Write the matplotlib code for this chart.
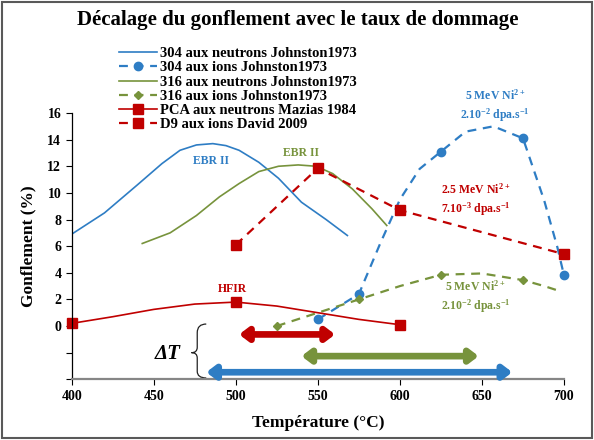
import matplotlib.pyplot as plt
from matplotlib.path import Path
from matplotlib.patches import PathPatch, Rectangle

# couleurs type Excel
BLEU = '#2E7DC4'
VERT = '#77933C'
ROUGE = '#C00000'

# 304 aux neutrons (courbe lissée)
t_304n = [400, 420, 440, 455, 466, 476, 486, 494, 502, 514, 526, 540, 555, 568]
g_304n = [6.9, 8.5, 10.6, 12.2, 13.2, 13.6, 13.7, 13.55, 13.2, 12.3, 11.1, 9.3, 8.0, 6.8]

# 304 aux ions
t_304i = [550, 575, 588, 600, 612, 625, 640, 657, 675, 688, 696, 700]
g_304i = [0.5, 2.4, 6.2, 9.5, 11.8, 13.1, 14.6, 15.0, 14.1, 9.4, 5.9, 3.8]
mk_304i = [0, 1, 5, 8, 11]

# 316 aux neutrons
t_316n = [443, 460, 476, 490, 502, 514, 526, 538, 549, 559, 571, 583, 592]
g_316n = [6.2, 7.0, 8.3, 9.7, 10.7, 11.6, 12.0, 12.1, 12.0, 11.45, 10.3, 8.8, 7.55]

# 316 aux ions
t_316i = [525, 550, 575, 600, 625, 650, 675, 688, 698]
g_316i = [0.0, 1.0, 2.0, 3.0, 3.85, 3.95, 3.45, 3.0, 2.6]
mk_316i = [0, 2, 4, 6]

# PCA aux neutrons
t_pca = [400, 425, 450, 475, 500, 525, 550, 575, 600]
g_pca = [0.2, 0.7, 1.25, 1.65, 1.8, 1.5, 1.0, 0.5, 0.1]
mk_pca = [0, 4, 8]

# D9 aux ions
t_d9 = [500, 550, 600, 700]
g_d9 = [6.1, 11.85, 8.7, 5.4]

# intervalles de température (flèches Delta T)
dt_debut = [502, 540, 482]
dt_fin = [560.5, 648, 668.5]
dt_y = [-0.63, -2.26, -3.47]
dt_couleurs = [ROUGE, VERT, BLEU]

plt.rcParams['font.family'] = 'Liberation Serif'
plt.rcParams['font.weight'] = 'bold'
plt.rcParams['axes.labelweight'] = 'bold'
plt.rcParams['mathtext.default'] = 'regular'

fig = plt.figure(figsize=(5.94, 4.4), dpi=100)
ax = fig.add_axes([71.7 / 594, 1 - 379.3 / 440, (564 - 71.7) / 594, (379.3 - 113) / 440])

tirets = (0, (4, 3))
ax.plot(t_304n, g_304n, color=BLEU, lw=1.2, label='304 aux neutrons Johnston1973')
ax.plot(t_304i, g_304i, color=BLEU, lw=1.6, ls=tirets, marker='o', ms=6,
        markevery=mk_304i, label='304 aux ions Johnston1973', clip_on=False)
ax.plot(t_316n, g_316n, color=VERT, lw=1.2, label='316 aux neutrons Johnston1973')
ax.plot(t_316i, g_316i, color=VERT, lw=1.6, ls=tirets, marker='D', ms=4,
        markevery=mk_316i, label='316 aux ions Johnston1973')
ax.plot(t_pca, g_pca, color=ROUGE, lw=1.2, marker='s', ms=7,
        markevery=mk_pca, label='PCA aux neutrons Mazias 1984', clip_on=False)
ax.plot(t_d9, g_d9, color=ROUGE, lw=1.6, ls=tirets, marker='s', ms=7,
        label='D9 aux ions David 2009', clip_on=False)

# flèches
for x0, x1, y, c in zip(dt_debut, dt_fin, dt_y, dt_couleurs):
    ax.annotate('', xy=(x1, y), xytext=(x0, y),
                arrowprops=dict(arrowstyle='<|-|>,head_length=0.5,head_width=0.38',
                                color=c, lw=4.8, shrinkA=0, shrinkB=0))

# accolade
verts = [(482, 0.15), (476.5, 0.15), (476.5, -0.5), (476.5, -1.6),
         (476.5, -2.0), (473, -2.0), (476.5, -2.0), (476.5, -2.4),
         (476.5, -3.4), (476.5, -3.9), (482, -3.9)]
codes = [Path.MOVETO, Path.CURVE3, Path.CURVE3, Path.LINETO,
         Path.CURVE3, Path.CURVE3, Path.CURVE3, Path.CURVE3,
         Path.LINETO, Path.CURVE3, Path.CURVE3]
ax.add_patch(PathPatch(Path(verts, codes), fill=False, lw=0.9, color='#222222'))
ax.text(458.5, -2.1, 'ΔT', fontsize=15, style='italic', ha='center', va='center')

# annotations
ax.text(485, 12.4, 'EBR II', color=BLEU, fontsize=8.5, ha='center', va='center')
ax.text(539.6, 13.0, 'EBR II', color=VERT, fontsize=8.5, ha='center', va='center')
ax.text(498, 2.77, 'HFIR', color=ROUGE, fontsize=8.5, ha='center', va='center')
ax.text(658, 16.5, '5 MeV Ni$^{2+}$\n2.10$^{-2}$ dpa.s$^{-1}$', color=BLEU, fontsize=8.5,
        ha='center', va='center', linespacing=1.3)
ax.text(646, 9.45, '2.5 MeV Ni$^{2+}$\n7.10$^{-3}$ dpa.s$^{-1}$', color=ROUGE, fontsize=8.5,
        ha='center', va='center', linespacing=1.3)
ax.text(646, 2.17, '5 MeV Ni$^{2+}$\n2.10$^{-2}$ dpa.s$^{-1}$', color=VERT, fontsize=8.5,
        ha='center', va='center', linespacing=1.3)

ax.set_xlim(400, 700)
ax.set_ylim(-4, 16)
ax.set_xticks(range(400, 701, 50))
ax.set_yticks(range(-4, 17, 2))
ax.set_yticklabels(['', ''] + [str(v) for v in range(0, 17, 2)])
ax.tick_params(labelsize=10, length=4, direction='out')
ax.spines['top'].set_visible(False)
ax.spines['right'].set_visible(False)
ax.spines['bottom'].set_color('#868686')
ax.spines['bottom'].set_linewidth(1.6)
ax.spines['left'].set_linewidth(0.9)
ax.set_xlabel('Température (°C)', fontsize=12.5, labelpad=9)
ax.set_ylabel('Gonflement (%)', fontsize=12.5, labelpad=8)

fig.text(298 / 594, 1 - 20 / 440, 'Décalage du gonflement avec le taux de dommage',
         fontsize=15, ha='center', va='center')

handles, labels = ax.get_legend_handles_labels()
fig.legend(handles, labels, loc='upper left', bbox_to_anchor=(119 / 594, 1 - 47 / 440),
           frameon=False, fontsize=10.5, handlelength=2.6, handletextpad=0.2,
           labelspacing=0.07, borderpad=0, borderaxespad=0)

fig.add_artist(Rectangle((0.004, 0.005), 0.992, 0.99, transform=fig.transFigure,
                         fill=False, ec='#595959', lw=1.5))

fig.savefig('out.png', dpi=100)
